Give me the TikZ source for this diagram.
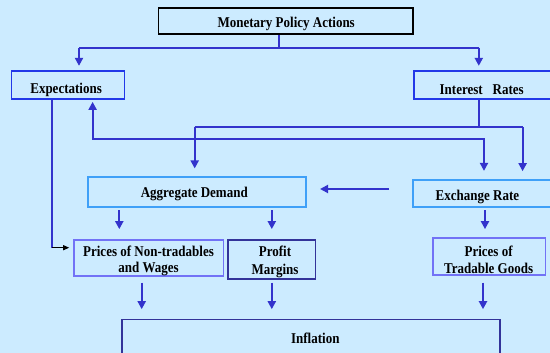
\documentclass[tikz,border=0pt]{standalone}
\usepackage{fontspec}
\usepackage{graphicx}
\setmainfont{Liberation Serif}
\usetikzlibrary{arrows.meta}
\definecolor{bg}{HTML}{CCEBFF}
\definecolor{ln}{HTML}{3333CC}
\definecolor{bxa}{HTML}{2238E8}
\definecolor{bxb}{HTML}{3FA0F8}
\definecolor{bxc}{HTML}{7272F6}
\definecolor{bxd}{HTML}{333399}
\newcommand\vst[1]{\scalebox{1}[1.15]{#1}}
\lineskiplimit=-100pt\relax
\begin{document}
\begin{tikzpicture}[x=1pt,y=-1pt,
  box/.style={draw, rectangle, inner sep=0pt, line width=1.7pt},
  lbl/.style={font=\fontsize{13}{16.6}\selectfont\bfseries, align=center, inner sep=0pt, text=black},
  con/.style={ln, line width=2pt},
  arr/.style={ln, line width=2pt, -{Triangle[length=8pt,width=8pt]}}]
\fill[bg] (0,0) rectangle (550,353);
\useasboundingbox (0,0) rectangle (550,353);

% boxes
\node[box, draw=black, minimum width=254.3pt, minimum height=26.6pt] (mpa) at (285.6,21) {};
\node[box, draw=bxa, minimum width=112.9pt, minimum height=28pt] (exp) at (68,84.7) {};
\node[box, draw=bxa, minimum width=137.6pt, minimum height=28pt] (ir) at (483,84.7) {};
\node[box, draw=bxb, minimum width=218.2pt, minimum height=30pt] (ad) at (196.8,192.3) {};
\node[box, draw=bxb, minimum width=139.2pt, minimum height=27.3pt] (er) at (482.4,193.7) {};
\node[box, draw=bxc, minimum width=149.7pt, minimum height=36pt] (pnt) at (148.5,258) {};
\node[box, draw=bxd, minimum width=87.3pt, minimum height=38.7pt] (pm) at (271.7,259.3) {};
\node[box, draw=bxc, minimum width=112.2pt, minimum height=37.6pt] (ptg) at (489.3,256.5) {};
\node[box, draw=bxd, minimum width=377.8pt, minimum height=40.7pt] (inf) at (310.9,339.7) {};

% labels
\node[lbl] (tmpa) at (286.2,24) {\vst{Monetary Policy Actions}};
\node[lbl] (texp) at (66.1,90) {\vst{Expectations}};
\node[lbl] (tir) at (481.7,90) {\vst{Interest\hspace{10pt}Rates}};
\node[lbl] (tad) at (194.3,194) {\vst{Aggregate Demand}};
\node[lbl] (ter) at (477.4,196.7) {\vst{Exchange Rate}};
\node[lbl] (tpnt) at (148.5,261) {\vst{Prices of Non-tradables}\\\vst{and Wages}};
\node[lbl, font=\fontsize{13}{18.6}\selectfont\bfseries] (tpm) at (275,262) {\vst{Profit}\\\vst{Margins}};
\node[lbl] (tptg) at (488.6,260) {\vst{Prices of}\\\vst{Tradable Goods}};
\node[lbl] (tinf) at (315.3,338.3) {\vst{Inflation}};

% x positions
\coordinate (xe) at (79,0);
\coordinate (xi) at (478.8,0);
\coordinate (xm) at (279.2,0);
\coordinate (xel) at (51.9,0);
\coordinate (xer) at (92.6,0);
\coordinate (xq) at (484,0);
\coordinate (xad) at (194.7,0);
\coordinate (xr) at (522.6,0);
\coordinate (xa1) at (119.3,0);
\coordinate (xa2) at (271.8,0);
\coordinate (xa3) at (485,0);
\coordinate (xb1) at (141.7,0);
\coordinate (xb3) at (483,0);
% y levels
\coordinate (y1) at (0,47.7);
\coordinate (y2) at (0,127.3);
\coordinate (y3) at (0,138.7);
\coordinate (y4) at (0,247.7);
\coordinate (y5) at (0,189);

% MPA fork
\draw[con] (mpa.south -| xm) -- (xm |- y1);
\draw[arr, shorten >=4pt] (xe |- y1) -- (exp.north -| xe);
\draw[arr, shorten >=4pt] (xi |- y1) -- (ir.north -| xi);
\draw[con] (xe |- y1) -- (xi |- y1);

% Interest rates fork
\draw[con] (ir.south -| xi) -- (xi |- y2);
\draw[con] (xad |- y2) -- (xr |- y2);
\draw[arr, shorten >=8pt] (xad |- y2) -- (ad.north -| xad);
\draw[arr, shorten >=8pt] (xr |- y2) -- (er.north -| xr);

% expectations <-> exchange rate
\draw[con, {Triangle[length=8pt,width=8pt]}-{Triangle[length=8pt,width=8pt]}, shorten <=2.3pt, shorten >=8.3pt]
  (exp.south -| xer) -- (xer |- y3) -- (xq |- y3) -- (er.north -| xq);

% expectations -> prices of non-tradables
\draw[con] (exp.south -| xel) -- (xel |- y4);
\draw[black, line width=1pt, -{Triangle[length=6pt,width=5pt]}, shorten >=3.6pt] (xel |- y4) -- (pnt.west |- y4);

% exchange rate -> aggregate demand
\draw[arr, shorten <=22.8pt, shorten >=13.3pt] (er.west |- y5) -- (ad.east |- y5);

% AD / ER down
\draw[arr, shorten <=2pt, shorten >=10pt] (ad.south -| xa1) -- (pnt.north -| xa1);
\draw[arr, shorten <=2pt, shorten >=10pt] (ad.south -| xa2) -- (pm.north -| xa2);
\draw[arr, shorten <=2pt, shorten >=7.7pt] (er.south -| xa3) -- (ptg.north -| xa3);

% to inflation
\draw[arr, shorten <=5.7pt, shorten >=9.3pt] (pnt.south -| xb1) -- (inf.north -| xb1);
\draw[arr, shorten <=3pt, shorten >=9.3pt] (pm.south -| xa2) -- (inf.north -| xa2);
\draw[arr, shorten <=6.4pt, shorten >=9.3pt] (ptg.south -| xb3) -- (inf.north -| xb3);
\end{tikzpicture}
\end{document}
